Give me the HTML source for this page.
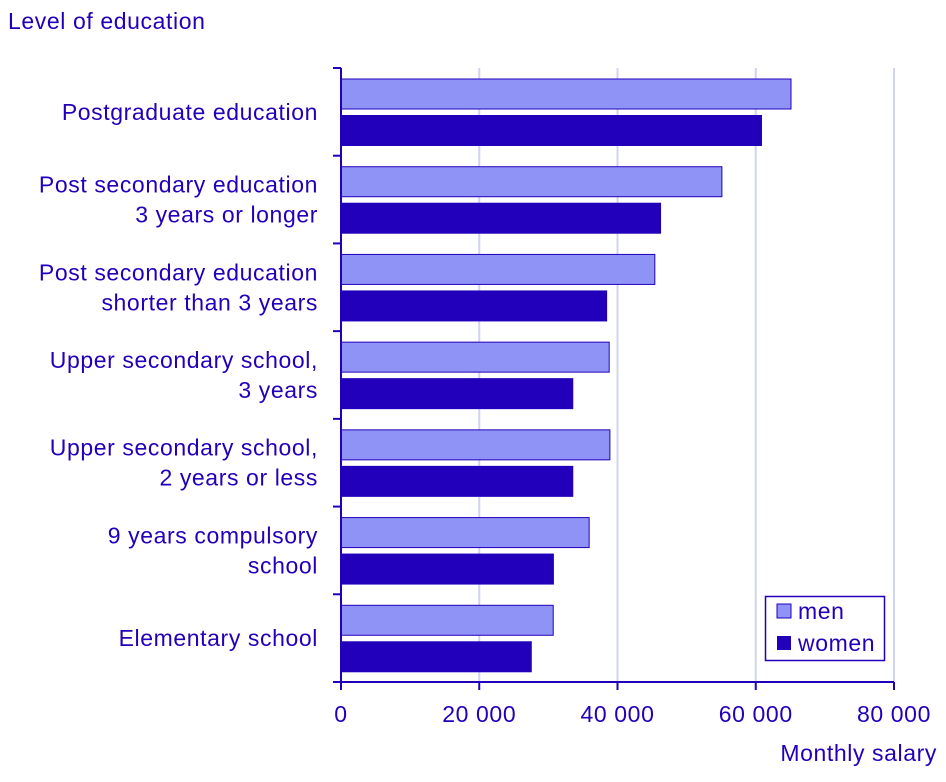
<!DOCTYPE html>
<html><head><meta charset="utf-8"><style>
body{margin:0;background:#fff;}
svg{display:block;font-family:"Liberation Sans",sans-serif;}
text{letter-spacing:0.6px;}
</style></head><body>
<svg id="chart" width="946" height="782">
<text x="8" y="29" font-size="23" fill="#2200bb">Level of education</text>
<text x="937" y="761" font-size="23" fill="#2200bb" text-anchor="end">Monthly salary</text>
<g id="grid"></g><g id="bars"></g><g id="axes"></g>
<g>
<rect x="765.5" y="596.5" width="119" height="64" fill="#fff" stroke="#2200bb" stroke-width="1.5"/>
<rect x="777" y="604" width="14" height="14" fill="#8f93f5" stroke="#2200bb"/>
<text x="798" y="619" font-size="23" fill="#2200bb">men</text>
<rect x="777" y="636" width="14" height="14" fill="#2200bb"/>
<text x="798" y="651" font-size="23" fill="#2200bb">women</text>
</g>
</svg>
<script>
const categories=[["Postgraduate education"],["Post secondary education","3 years or longer"],["Post secondary education","shorter than 3 years"],["Upper secondary school,","3 years"],["Upper secondary school,","2 years or less"],["9 years compulsory","school"],["Elementary school"]];
const men=[65100,55100,45400,38800,38900,35900,30700];
const women=[60900,46300,38500,33600,33600,30800,27600];
const ticks=[0,20000,40000,60000,80000];
const tickLabels=["0","20 000","40 000","60 000","80 000"];
const NS="http://www.w3.org/2000/svg";
const x0=341,x1=894,yTop=68,yBottom=682,xmax=80000;
const band=(yBottom-yTop)/categories.length;
function xs(v){return x0+v/xmax*(x1-x0);}
function mk(tag,attrs,parent,txt){const e=document.createElementNS(NS,tag);for(const k in attrs)e.setAttribute(k,attrs[k]);if(txt!==undefined)e.textContent=txt;parent.appendChild(e);return e;}
const grid=document.getElementById('grid'),bars=document.getElementById('bars'),axes=document.getElementById('axes');
ticks.forEach((t,i)=>{
 const x=xs(t);
 if(t>0){const g=mk('line',{x1:x,x2:x,y1:yTop,y2:yBottom,stroke:'#d0d4f0','stroke-width':2},grid);
 
 }
 mk('line',{x1:x,x2:x,y1:yBottom,y2:yBottom+8,stroke:'#2200bb','stroke-width':2},axes);
 const l=mk('text',{x:x,y:722,'font-size':23,fill:'#2200bb','text-anchor':'middle'},axes,tickLabels[i]);
 
 
});
categories.forEach((c,i)=>{
 const y=yTop+i*band;
 const m=mk('rect',{x:x0,y:y+11,width:xs(men[i])-x0,height:30,fill:'#8f93f5',stroke:'#2200bb','stroke-width':1},bars);
 
 
 const w=mk('rect',{x:x0,y:y+47,width:xs(women[i])-x0,height:31,fill:'#2200bb'},bars);
 
 
 mk('line',{x1:333,x2:x0,y1:y,y2:y,stroke:'#2200bb','stroke-width':2},axes);
 const mid=y+band/2;
 const n=c.length;
 c.forEach((line,j)=>{
  const t=mk('text',{x:318,y:mid+8+(j-(n-1)/2)*30,'font-size':23,fill:'#2200bb','text-anchor':'end'},axes,line);
  
  
 });
});
mk('line',{x1:333,x2:x0,y1:yBottom,y2:yBottom,stroke:'#2200bb','stroke-width':2},axes);
mk('line',{x1:x0,x2:x0,y1:yTop,y2:yBottom+8,stroke:'#2200bb','stroke-width':2},axes);
mk('line',{x1:x0,x2:x1,y1:yBottom,y2:yBottom,stroke:'#2200bb','stroke-width':2},axes);
</script>
</body></html>
